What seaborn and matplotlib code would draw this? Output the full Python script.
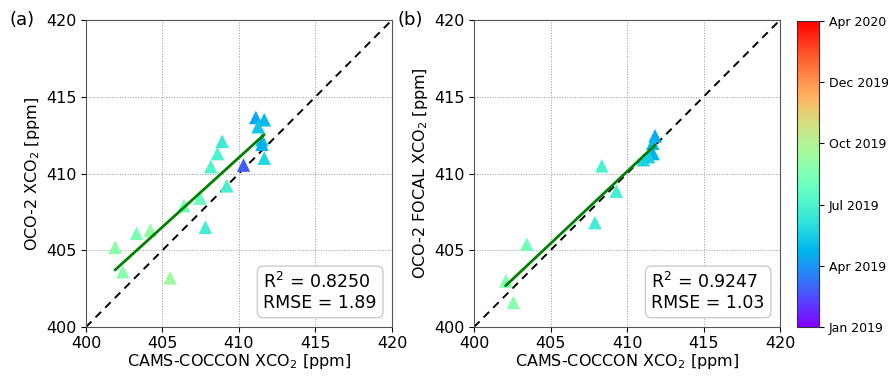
import numpy as np
import pandas as pd
import matplotlib
matplotlib.use("Agg")
import matplotlib.pyplot as plt
import seaborn as sns

sns.set_style("white")
plt.rcParams['font.family'] = ['DejaVu Sans']
plt.rcParams['text.color'] = 'black'
plt.rcParams['axes.labelcolor'] = 'black'
plt.rcParams['xtick.color'] = 'black'
plt.rcParams['ytick.color'] = 'black'

# Panel (a): CAMS-COCCON vs OCO-2
a_x = [401.9, 402.4, 403.3, 404.2, 405.5, 406.4, 407.45, 407.8, 408.15, 408.6,
       408.9, 409.2, 410.3, 411.65, 411.1, 411.65, 411.25, 411.5, 411.5]
a_y = [405.2, 403.6, 406.1, 406.3, 403.2, 407.9, 408.4, 406.5, 410.45, 411.3,
       412.1, 409.2, 410.55, 411.0, 413.65, 413.5, 413.05, 412.2, 411.9]
a_t = [2.6, 2.6, 2.45, 2.7, 2.8, 2.35, 2.3, 1.9, 2.05, 2.0,
       1.85, 1.95, 0.6, 1.6, 1.15, 1.3, 1.4, 1.35, 1.2]
a_stats = "R$^2$ = 0.8250\nRMSE = 1.89"

# Panel (b): CAMS-COCCON vs OCO-2 FOCAL
b_x = [402.07, 402.57, 403.44, 407.9, 408.35, 409.3, 411.07, 411.83, 411.68, 411.7, 411.4]
b_y = [403.0, 401.6, 405.4, 406.8, 410.5, 408.85, 410.9, 412.45, 411.97, 411.3, 411.1]
b_t = [2.5, 2.6, 2.4, 1.9, 2.0, 1.95, 1.6, 1.2, 1.3, 1.25, 1.5]
b_stats = "R$^2$ = 0.9247\nRMSE = 1.03"

cbar_ticks = [0, 1, 2, 3, 4, 5]
cbar_labels = ["Jan 2019", "Apr 2019", "Jul 2019", "Oct 2019", "Dec 2019", "Apr 2020"]

fig = plt.figure(figsize=(8.88, 3.77), dpi=100)
ax_a = fig.add_axes([0.0968, 0.1326, 0.3446, 0.8143])
ax_b = fig.add_axes([0.5338, 0.1326, 0.3446, 0.8143])
cax = fig.add_axes([0.8975, 0.1326, 0.0248, 0.8117])

cmap = plt.get_cmap("rainbow")
norm = matplotlib.colors.Normalize(vmin=0, vmax=5)

panels = [
    (ax_a, a_x, a_y, a_t, a_stats, "(a)", "OCO-2 XCO$_2$ [ppm]"),
    (ax_b, b_x, b_y, b_t, b_stats, "(b)", "OCO-2 FOCAL XCO$_2$ [ppm]"),
]
for ax, xs, ys, ts, stats, lab, ylab in panels:
    df = pd.DataFrame({"x": xs, "y": ys, "t": ts})
    ax.grid(True, color="#999999", linestyle=":", linewidth=0.7)
    ax.set_axisbelow(True)
    ax.plot([400, 420], [400, 420], color="black", linestyle=(0, (4, 3)), lw=1.4, zorder=1)
    sns.scatterplot(data=df, x="x", y="y", hue="t", palette=cmap, hue_norm=norm,
                    marker="^", s=95, edgecolor="none", legend=False, ax=ax, zorder=3)
    k, c = np.polyfit(df["x"], df["y"], 1)
    xl = np.array([df["x"].min(), df["x"].max()])
    sns.lineplot(x=xl, y=k * xl + c, color="green", lw=2, ax=ax, zorder=4)
    ax.set_xlim(400, 420)
    ax.set_ylim(400, 420)
    ax.set_xticks([400, 405, 410, 415, 420])
    ax.set_yticks([400, 405, 410, 415, 420])
    ax.tick_params(labelsize=11.5, length=3.5, left=True, bottom=True, pad=3)
    ax.set_xlabel("CAMS-COCCON XCO$_2$ [ppm]", fontsize=11.5, labelpad=1)
    ax.set_ylabel(ylab, fontsize=11.5, labelpad=3)
    for sp in ax.spines.values():
        sp.set_color("#555555")
    ax.text(0.58, 0.05, stats, transform=ax.transAxes, ha="left", va="bottom",
            fontsize=12.5, linespacing=1.1, multialignment="left",
            bbox=dict(boxstyle="round,pad=0.35", facecolor="white", edgecolor="#cccccc"))
    ax.text(-0.25, 1.0, lab, transform=ax.transAxes, fontsize=13, va="center", ha="left")

sm = matplotlib.cm.ScalarMappable(norm=norm, cmap=cmap)
cb = fig.colorbar(sm, cax=cax, ticks=cbar_ticks)
cb.ax.set_yticklabels(cbar_labels)
cb.ax.tick_params(labelsize=9)
cb.outline.set_edgecolor("#333333")

fig.savefig("out.png", dpi=100)
